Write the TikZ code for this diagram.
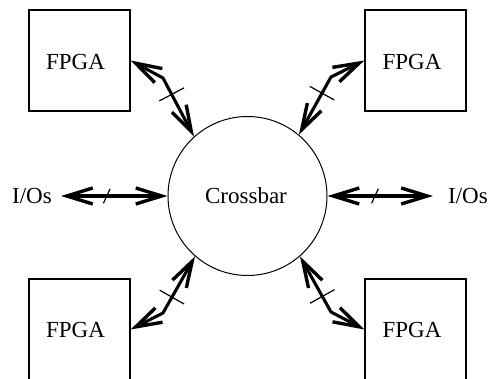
\documentclass[tikz,border=0pt]{standalone}
\usepackage{fontspec}
\setmainfont{Liberation Serif}
\usetikzlibrary{arrows.meta,calc}
\begin{document}
\begin{tikzpicture}[x=1pt,y=-1pt,
  fpgabox/.style={draw,line width=1.2pt,minimum width=101pt,minimum height=101pt,inner sep=0pt},
  lbl/.style={font=\fontsize{23}{23}\selectfont,inner sep=0pt,anchor=base},
  barb/.tip={Straight Barb[length=26pt,width=16pt,line width=3.4pt]},
  bus/.style={line width=3.1pt,barb-barb},
  tick/.style={line width=1.2pt}]
\clip (0,0) rectangle (491,379);

% crossbar hub
\node[draw,circle,line width=1pt,minimum size=159pt,inner sep=0pt] (cb) at (247.5,196) {};
\node[lbl] (cbt) at (246,204) {Crossbar};

% FPGA boxes
\node[fpgabox] (f1) at (79.5,60.5) {};
\node[fpgabox] (f2) at (415.5,60.5) {};
\node[fpgabox] (f3) at (79.5,329.5) {};
\node[fpgabox] (f4) at (415.5,329.5) {};
\node[lbl] (f1t) at (75.5,70) {FPGA};
\node[lbl] (f2t) at (412,70) {FPGA};
\node[lbl] (f3t) at (75.5,338) {FPGA};
\node[lbl] (f4t) at (412,338) {FPGA};

% I/O labels
\node[lbl] (io1) at (32,204) {I/Os};
\node[lbl] (io2) at (468,204) {I/Os};

% bend points of the FPGA links
\coordinate (b1) at (163,78);
\coordinate (b2) at (331,77);
\coordinate (b3) at (163,313);
\coordinate (b4) at (331,312);

% FPGA links
\draw[bus] (f1.east) -- (b1) -- (cb.132);
\draw[bus] (f2.west) -- (b2) -- (cb.50);
\draw[bus] (f3.east) -- (b3) -- (cb.229);
\draw[bus] (f4.west) -- (b4) -- (cb.311);

% I/O links
\coordinate (e1) at ([xshift=9pt,yshift=8pt]io1.base east);
\coordinate (e2) at ([xshift=-15pt,yshift=8pt]io2.base west);
\draw[bus] (e1) -- (cb.west);
\draw[bus] (cb.east) -- (e2);

% bus-width ticks
\foreach \b/\a in {b1/132,b2/50,b3/229,b4/311}{
  \coordinate (m) at ($(\b)!0.28!(cb.\a)$);
  \draw[tick] ($(m)!14pt!90:(cb.\a)$) -- ($(m)!14pt!-90:(cb.\a)$);
}
\coordinate (s1) at ($(e1)!0.43!(cb.west)$);
\draw[tick] ($(s1)!8pt!65:(cb.west)$) -- ($(s1)!8pt!-115:(cb.west)$);
\coordinate (s2) at ($(cb.east)!0.45!(e2)$);
\draw[tick] ($(s2)!8pt!65:(e2)$) -- ($(s2)!8pt!-115:(e2)$);
\end{tikzpicture}
\end{document}
